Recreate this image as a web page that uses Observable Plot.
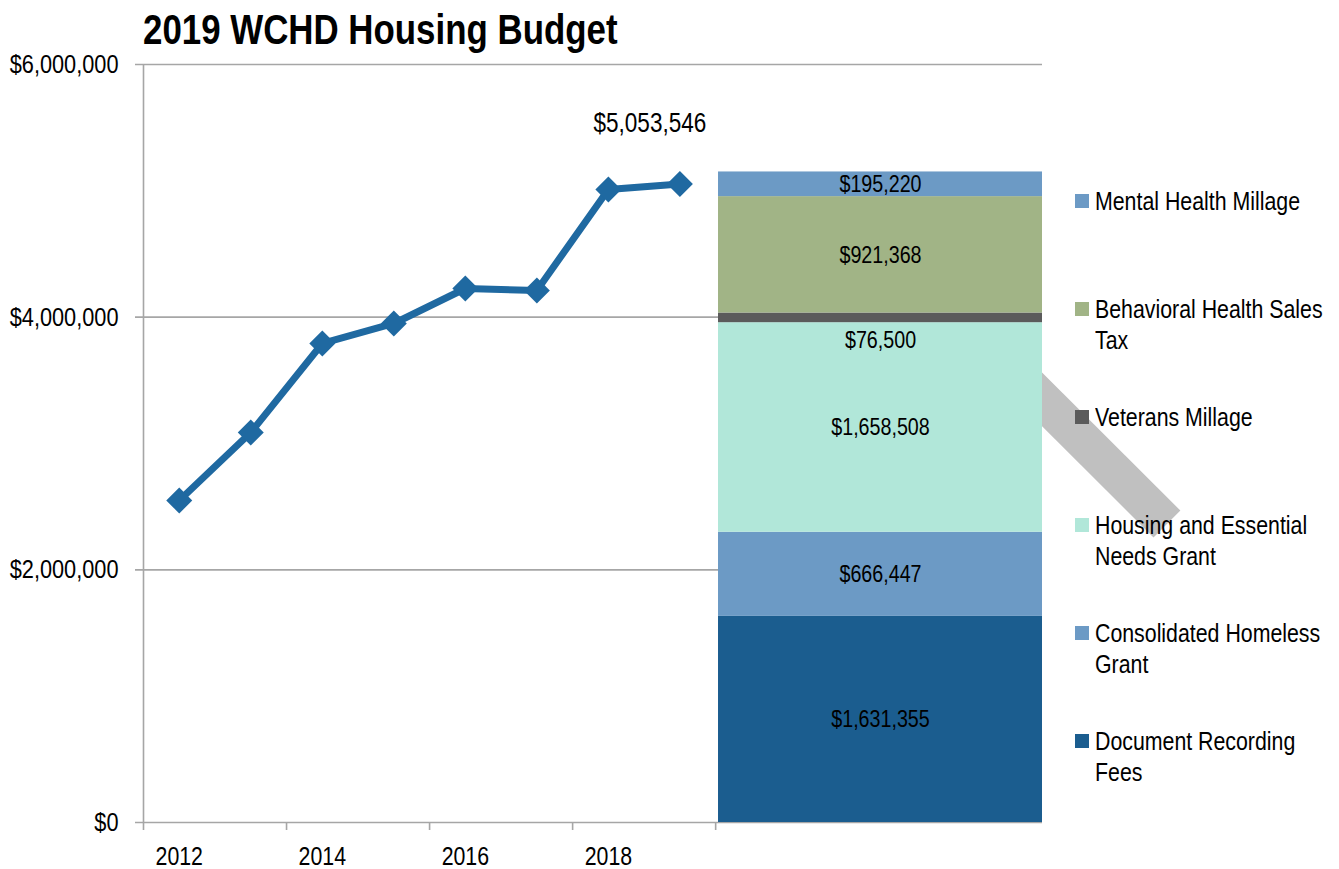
<!DOCTYPE html>
<html>
<head>
<meta charset="utf-8">
<script src="https://cdn.jsdelivr.net/npm/d3@7"></script>
<script src="https://cdn.jsdelivr.net/npm/@observablehq/plot@0.6"></script>
<style>
  html, body { margin: 0; padding: 0; background: #fff; }
  body { width: 1339px; height: 869px; position: relative; overflow: hidden;
         font-family: "Liberation Sans", Arial, sans-serif; }
  #title { position: absolute; left: 143px; top: 6px; font-size: 42px; font-weight: bold; color: #000; white-space: nowrap; line-height: 48px;
           transform: scaleX(0.83); transform-origin: 0 0; }
  #chart { position: absolute; left: 0; top: 0; }
  .leg { position: absolute; left: 1075px; font-size: 26px; line-height: 31px; color: #000; }
  .leg .sw { position: absolute; left: 0; width: 14px; height: 14px; top: 8px; }
  .leg .tx { position: absolute; left: 20px; white-space: nowrap; transform: scaleX(0.82); transform-origin: 0 0; }
</style>
</head>
<body>
<div id="title">2019 WCHD Housing Budget</div>
<div id="chart"></div>
<div id="legend"></div>
<script>
// ---- data ----
const years = [2012, 2013, 2014, 2015, 2016, 2017, 2018, 2019];
const budget = [2549000, 3087000, 3792000, 3950000, 4227000, 4211000, 5011000, 5053546];
const budgetLabelYear = 2019;

const sources = ["Document Recording Fees", "Consolidated Homeless Grant", "Housing and Essential Needs Grant",
                 "Veterans Millage", "Behavioral Health Sales Tax", "Mental Health Millage"];
const amounts = [1631355, 666447, 1658508, 76500, 921368, 195220];
const colors = ["#1b5d8f", "#6c9ac5", "#b1e7d9", "#5b5b5b", "#a1b486", "#6c9ac5"];

const yTicks = [0, 2000000, 4000000, 6000000];
const xTickLabels = [2012, 2014, 2016, 2018];
const xTickMarks = [2011.5, 2013.5, 2015.5, 2017.5, 2019.5];

// legend order (top to bottom) and text lines
const legendOrder = ["Mental Health Millage", "Behavioral Health Sales Tax", "Veterans Millage",
                     "Housing and Essential Needs Grant", "Consolidated Homeless Grant", "Document Recording Fees"];
const legendLines = [["Mental Health Millage"], ["Behavioral Health Sales", "Tax"], ["Veterans Millage"],
                     ["Housing and Essential", "Needs Grant"], ["Consolidated Homeless", "Grant"], ["Document Recording", "Fees"]];

// decorative grey connector behind the legend (data coordinates)
const connectorX = [2023.49, 2025.81];
const connectorY = [3673000, 2363000];

// ---- derived tables ----
const xDomain = [2011.5, 2024.07];
const bar = {x1: 2019.54, x2: 2024.07};
const lineData = years.map((year, i) => ({year, value: budget[i]}));
const ends = d3.cumsum(amounts);
const segments = sources.map((source, i) => ({
  source, value: amounts[i], y1: ends[i] - amounts[i], y2: ends[i], color: colors[i]
}));
const connector = connectorX.map((x, i) => ({x, y: connectorY[i]}));
const money = d3.format("$,");
const font = '"Liberation Sans", Arial, sans-serif';
const grid = "#a6a6a6";

const plot = Plot.plot({
  width: 1339,
  height: 869,
  marginLeft: 143,
  marginRight: 297,
  marginTop: 64,
  marginBottom: 47,
  style: {fontFamily: font, fontSize: "26px", color: "#000", background: "transparent", overflow: "visible"},
  x: {type: "linear", domain: xDomain, axis: null},
  y: {domain: [0, 6000000], axis: null},
  marks: [
    // gridlines (with left tick stubs)
    Plot.ruleY(yTicks, {stroke: grid, strokeWidth: 1.6, insetLeft: -8}),
    // y tick labels
    Plot.text(yTicks, {x: xDomain[0], y: d => d, text: d => money(d), textAnchor: "end", dx: -25, fontSize: 26.5}),
    // vertical axis line
    Plot.ruleX([xDomain[0]], {y1: 0, y2: 6000000, stroke: grid, strokeWidth: 1.6}),
    // x ticks
    Plot.ruleX(xTickMarks, {y1: 0, y2: 0, insetBottom: -8, stroke: grid, strokeWidth: 1.6}),
    Plot.text(xTickLabels, {x: d => d, y: 0, text: d => String(d), dy: 34, fontSize: 26}),
    // connector
    Plot.line(connector, {x: "x", y: "y", stroke: "#c0c0c0", strokeWidth: 38, strokeLinecap: "butt"}),
    // stacked bar
    Plot.rect(segments, {x1: () => bar.x1, x2: () => bar.x2, y1: "y1", y2: "y2", fill: "color"}),
    Plot.text(segments.filter(d => d.source !== "Veterans Millage"), {
      x: () => (bar.x1 + bar.x2) / 2, y: d => (d.y1 + d.y2) / 2, text: d => money(d.value), fontSize: 24, fill: "#000"
    }),
    Plot.text(segments.filter(d => d.source === "Veterans Millage"), {
      x: () => (bar.x1 + bar.x2) / 2, y: d => (d.y1 + d.y2) / 2, text: d => money(d.value), dy: 22, fontSize: 24, fill: "#000"
    }),
    // line + markers
    Plot.line(lineData, {x: "year", y: "value", stroke: "#1f69a1", strokeWidth: 7, strokeLinejoin: "round"}),
    Plot.dot(lineData, {x: "year", y: "value", symbol: "diamond2", r: 11.7, fill: "#1f69a1", stroke: "none"}),
    Plot.text(lineData.filter(d => d.year === budgetLabelYear), {
      x: "year", y: "value", text: d => money(d.value), dx: -30, dy: -61, fontSize: 27.5, fill: "#000"
    })
  ]
});
document.getElementById("chart").appendChild(plot);

// narrow the SVG texts to imitate a condensed face
plot.querySelectorAll("text").forEach(t => {
  const len = t.getComputedTextLength();
  if (len > 0) {
    t.setAttribute("textLength", (len * 0.82).toFixed(2));
    t.setAttribute("lengthAdjust", "spacingAndGlyphs");
  }
});

// legend
const legendTops = [186, 294, 402, 510, 618, 726];
const legend = document.getElementById("legend");
legendOrder.forEach((name, i) => {
  const item = document.createElement("div");
  item.className = "leg";
  item.style.top = legendTops[i] + "px";
  const sw = document.createElement("div");
  sw.className = "sw";
  sw.style.background = colors[sources.indexOf(name)];
  const tx = document.createElement("div");
  tx.className = "tx";
  tx.innerHTML = legendLines[i].join("<br>");
  item.appendChild(sw);
  item.appendChild(tx);
  legend.appendChild(item);
});
</script>
</body>
</html>
